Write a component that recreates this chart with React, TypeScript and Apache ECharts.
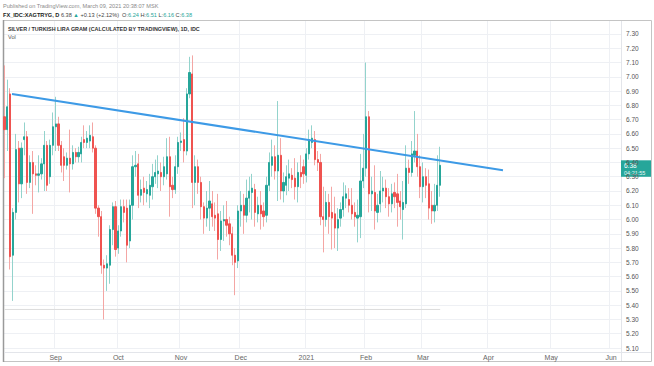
import React, { useEffect, useRef } from 'react';
import * as echarts from 'echarts';

const FONT = '"Liberation Sans", Arial, sans-serif';

// First trading day shown and total number of daily (weekday) slots on the time axis
const startDate = '2020-08-06';
const totalSlots = 217;

const opens = [
  6.72, 6.63, 6.88, 5.75, 6.05, 6.50, 6.25, 6.56, 6.58, 6.26,
  6.40, 6.32, 6.31, 6.32, 6.39, 6.52, 6.30, 6.52, 6.65, 6.67,
  6.52, 6.44, 6.38, 6.43, 6.39, 6.47, 6.44, 6.46, 6.56, 6.54,
  6.55, 6.58, 6.50, 6.08, 6.02, 5.68, 5.66, 5.68, 5.93, 6.09,
  5.80, 5.92, 6.09, 6.08, 5.85, 6.10, 6.37, 6.39, 6.17, 6.22,
  6.18, 6.17, 6.23, 6.30, 6.32, 6.33, 6.30, 6.32, 6.44, 6.24,
  6.21, 6.37, 6.54, 6.56, 6.48, 6.88, 7.02, 6.26, 6.37, 6.26,
  6.09, 6.01, 6.08, 6.11, 6.03, 6.04, 5.86, 5.99, 6.00, 5.97,
  5.90, 5.75, 5.71, 6.06, 6.10, 6.03, 6.15, 6.19, 6.21, 6.04,
  6.10, 6.06, 6.03, 6.24, 6.38, 6.44, 6.34, 6.45, 6.20, 6.24,
  6.29, 6.31, 6.29, 6.23, 6.33, 6.37, 6.31, 6.46, 6.54, 6.56,
  6.42, 6.40, 6.02, 6.00, 6.12, 6.05, 6.04, 5.94, 6.01, 6.07,
  6.15, 6.14, 6.10, 6.05, 6.01, 6.02, 6.27, 6.36, 6.72, 6.18,
  6.19, 6.05, 6.11, 6.20, 6.22, 6.16, 6.11, 6.19, 6.18, 6.13,
  6.07, 6.11, 6.36, 6.33, 6.45, 6.48, 6.37, 6.23, 6.30, 6.25,
  6.10, 6.06, 6.10, 6.24,
];
const closes = [
  6.63, 6.79, 5.74, 6.05, 6.49, 6.25, 6.50, 6.58, 6.26, 6.40,
  6.32, 6.31, 6.32, 6.39, 6.52, 6.24, 6.52, 6.65, 6.67, 6.52,
  6.38, 6.38, 6.43, 6.39, 6.47, 6.44, 6.47, 6.54, 6.54, 6.57,
  6.59, 6.50, 6.08, 6.02, 5.68, 5.66, 5.69, 5.93, 6.09, 5.79,
  5.92, 6.09, 6.05, 5.82, 6.10, 6.37, 6.38, 6.17, 6.21, 6.19,
  6.21, 6.24, 6.30, 6.33, 6.34, 6.30, 6.37, 6.44, 6.23, 6.21,
  6.37, 6.54, 6.55, 6.48, 6.88, 7.03, 6.26, 6.37, 6.26, 6.09,
  6.01, 6.08, 6.13, 6.02, 6.01, 5.86, 5.99, 6.00, 5.96, 5.90,
  5.75, 5.70, 6.06, 6.10, 6.03, 6.15, 6.20, 6.22, 6.05, 6.10,
  6.04, 6.02, 6.24, 6.40, 6.44, 6.34, 6.45, 6.20, 6.26, 6.30,
  6.32, 6.28, 6.23, 6.33, 6.30, 6.32, 6.46, 6.56, 6.57, 6.42,
  6.40, 6.02, 6.00, 6.12, 6.02, 6.01, 5.94, 6.00, 6.07, 6.16,
  6.18, 6.10, 6.04, 6.02, 6.03, 6.27, 6.36, 6.72, 6.18, 6.20,
  6.06, 6.10, 6.20, 6.22, 6.16, 6.11, 6.18, 6.16, 6.12, 6.09,
  6.12, 6.36, 6.33, 6.46, 6.48, 6.37, 6.23, 6.30, 6.24, 6.08,
  6.06, 6.10, 6.24, 6.38,
];
const lows = [
  6.29, 6.48, 5.65, 5.43, 6.00, 6.12, 6.15, 6.45, 6.18, 6.22,
  6.04, 6.24, 6.19, 6.28, 6.20, 6.20, 6.25, 6.45, 6.48, 6.48,
  6.33, 6.27, 6.35, 6.19, 6.35, 6.40, 6.40, 6.40, 6.50, 6.50,
  6.50, 6.47, 6.04, 5.88, 5.62, 5.30, 5.50, 5.55, 5.82, 5.74,
  5.76, 5.88, 5.98, 5.70, 5.80, 6.00, 6.30, 6.08, 6.12, 6.10,
  6.12, 6.08, 6.14, 6.25, 6.22, 6.20, 6.24, 6.28, 6.02, 6.15,
  6.18, 6.32, 6.48, 6.40, 6.45, 6.85, 6.08, 6.10, 6.18, 6.00,
  5.90, 5.95, 5.92, 5.95, 5.92, 5.72, 5.78, 5.85, 5.88, 5.82,
  5.68, 5.47, 5.66, 5.95, 5.90, 5.98, 6.05, 6.00, 5.95, 5.98,
  5.93, 5.95, 5.98, 6.20, 6.30, 6.28, 6.13, 6.14, 6.12, 6.17,
  6.20, 6.22, 6.14, 6.12, 6.22, 6.25, 6.26, 6.42, 6.50, 6.38,
  6.34, 5.96, 5.77, 5.95, 5.90, 5.79, 5.80, 5.78, 5.95, 6.02,
  6.08, 6.05, 6.00, 5.95, 5.84, 5.87, 6.22, 6.30, 6.05, 6.06,
  5.93, 5.98, 6.05, 6.12, 6.08, 6.02, 6.05, 6.08, 5.95, 6.00,
  5.86, 6.08, 6.25, 6.30, 6.40, 6.30, 6.15, 6.12, 6.15, 6.00,
  5.97, 5.98, 6.06, 6.16,
];
const highs = [
  7.08, 6.98, 6.92, 6.08, 6.60, 6.55, 6.54, 6.68, 6.62, 6.45,
  6.48, 6.38, 6.45, 6.43, 6.62, 6.55, 6.56, 6.75, 6.86, 6.72,
  6.55, 6.50, 6.47, 6.63, 6.52, 6.50, 6.51, 6.58, 6.66, 6.62,
  6.66, 6.68, 6.52, 6.10, 6.06, 5.72, 5.75, 5.96, 6.12, 6.13,
  5.96, 6.14, 6.14, 6.14, 6.14, 6.45, 6.48, 6.46, 6.28, 6.30,
  6.27, 6.32, 6.39, 6.42, 6.45, 6.40, 6.44, 6.57, 6.58, 6.30,
  6.45, 6.58, 6.61, 6.71, 6.92, 7.14, 7.15, 6.45, 6.42, 6.30,
  6.12, 6.20, 6.27, 6.20, 6.12, 6.18, 6.06, 6.10, 6.13, 6.02,
  5.95, 5.80, 6.10, 6.20, 6.18, 6.28, 6.30, 6.32, 6.25, 6.16,
  6.20, 6.12, 6.30, 6.47, 6.56, 6.52, 6.83, 6.57, 6.33, 6.38,
  6.42, 6.36, 6.43, 6.40, 6.45, 6.42, 6.50, 6.63, 6.66, 6.62,
  6.48, 6.46, 6.23, 6.20, 6.18, 6.23, 6.16, 6.08, 6.12, 6.26,
  6.24, 6.22, 6.22, 6.12, 6.14, 6.46, 6.60, 7.10, 6.76, 6.30,
  6.38, 6.18, 6.34, 6.30, 6.28, 6.22, 6.25, 6.26, 6.32, 6.20,
  6.27, 6.52, 6.42, 6.55, 6.76, 6.60, 6.45, 6.40, 6.36, 6.35,
  6.20, 6.25, 6.45, 6.51,
];

// Drawn trend line: [slot index, price]
const trendLine = [
  [2.66, 6.879],
  [175.06, 6.346],
];
// Faint "Vol" baseline level
const volBaseline = 5.37;

const monthNames = ['Jan', 'Feb', 'Mar', 'Apr', 'May', 'Jun', 'Jul', 'Aug', 'Sep', 'Oct', 'Nov', 'Dec'];

const publishedText = 'Published on TradingView.com, March 09, 2021 20:38:07 MSK';
const symbolText = 'FX_IDC:XAGTRYG, D';
const lastText = '6.38';
const changeText = '+0.13 (+2.12%)';
const ohlcLabels = ['O:', 'H:', 'L:', 'C:'];
const ohlcValues = ['6.24', '6.51', '6.16', '6.38'];
const titleText = 'SILVER / TURKISH LIRA GRAM (CALCULATED BY TRADINGVIEW), 1D, IDC';
const volText = 'Vol';
const countdownText = '04:21:55';

const UP = '#26a69a';
const DOWN = '#ef5350';
const UP_WICK = '#93d3cc';
const DOWN_WICK = '#f4a6a4';

function weekdaySlots(start: string, n: number): string[] {
  const out: string[] = [];
  const d = new Date(start + 'T00:00:00Z');
  while (out.length < n) {
    const wd = d.getUTCDay();
    if (wd !== 0 && wd !== 6) out.push(d.toISOString().slice(0, 10));
    d.setUTCDate(d.getUTCDate() + 1);
  }
  return out;
}

export default function App() {
  const ref = useRef<HTMLDivElement>(null);

  useEffect(() => {
    const chart = echarts.init(ref.current!, null, { renderer: 'svg' });
    const categories = weekdaySlots(startDate, totalSlots);
    const isMonthStart = (i: number) =>
      i > 0 && categories[i].slice(5, 7) !== categories[i - 1].slice(5, 7);

    const wickData = opens.map((o, i) => [o, closes[i], lows[i], highs[i]]);
    const bodyData = opens.map((o, i) => [
      o,
      closes[i],
      Math.min(o, closes[i]),
      Math.max(o, closes[i]),
    ]);
    const lastIndex = opens.length - 1;

    const baseGraphics: any[] = [
      {
        type: 'text',
        silent: true,
        style: { text: publishedText, x: 3, y: 6, fill: '#8a8a8a', fontSize: 5.6, fontFamily: FONT, textVerticalAlign: 'middle' },
      },
      {
        type: 'text',
        silent: true,
        style: {
          x: 3,
          y: 14.5,
          textVerticalAlign: 'middle',
          fontFamily: FONT,
          fontSize: 5.6,
          text:
            `{b|${symbolText}} {n|${lastText}} {g|▲} {n|${changeText}}  ` +
            ohlcLabels.map((l, i) => `{n|${l}}{g|${ohlcValues[i]}}`).join(' '),
          rich: {
            b: { fontWeight: 'bold', fill: '#222', fontSize: 5.6, fontFamily: FONT },
            n: { fill: '#444', fontSize: 5.6, fontFamily: FONT },
            g: { fill: UP, fontSize: 5.6, fontFamily: FONT },
          },
        },
      },
      {
        type: 'rect',
        silent: true,
        shape: { x: 3.5, y: 20.5, width: 648, height: 341 },
        style: { fill: 'none', stroke: '#c4c4c4', lineWidth: 1 },
      },
      {
        type: 'line',
        silent: true,
        shape: { x1: 3.5, y1: 20, x2: 3.5, y2: 362 },
        style: { stroke: '#9a9a9a', lineWidth: 1.5 },
      },
      {
        type: 'line',
        silent: true,
        shape: { x1: 621.5, y1: 21, x2: 621.5, y2: 361 },
        style: { stroke: '#e3e5ea', lineWidth: 1 },
      },
      {
        type: 'line',
        silent: true,
        shape: { x1: 4, y1: 352.5, x2: 651, y2: 352.5 },
        style: { stroke: '#e3e5ea', lineWidth: 1 },
      },
      {
        type: 'text',
        silent: true,
        style: { text: titleText, x: 8, y: 28.5, fill: '#333', fontSize: 5.4, fontWeight: 'bold', fontFamily: FONT, textVerticalAlign: 'middle' },
      },
      {
        type: 'text',
        silent: true,
        style: { text: volText, x: 8, y: 37, fill: '#555', fontSize: 5.6, fontFamily: FONT, textVerticalAlign: 'middle' },
      },
    ];

    chart.setOption({
      animation: false,
      backgroundColor: '#ffffff',
      textStyle: { fontFamily: FONT },
      grid: { left: 3, right: 33, top: 20, bottom: 18, outerBoundsMode: 'none', containLabel: false },
      xAxis: [
        {
          type: 'category',
          data: categories,
          boundaryGap: true,
          axisLine: { show: false },
          axisTick: { show: false },
          axisLabel: {
            interval: (i: number) => isMonthStart(i),
            formatter: (v: string) => {
              const m = Number(v.slice(5, 7));
              return m === 1 ? v.slice(0, 4) : monthNames[m - 1];
            },
            fontSize: 7,
            color: '#666',
            margin: 6,
            fontFamily: FONT,
          },
          splitLine: {
            show: true,
            interval: (i: number) => isMonthStart(i),
            lineStyle: { color: '#eef0f4', width: 1 },
          },
        },
        {
          type: 'value',
          min: -0.5,
          max: totalSlots - 0.5,
          show: false,
        },
      ],
      yAxis: {
        type: 'value',
        position: 'right',
        min: 5.1,
        max: 7.398,
        interval: 0.1,
        axisLine: { show: false },
        axisTick: { show: false },
        axisLabel: {
          formatter: (v: number) => v.toFixed(2),
          fontSize: 6.5,
          color: '#555',
          margin: 5,
          showMaxLabel: false,
          fontFamily: FONT,
        },
        splitLine: { show: true, lineStyle: { color: '#eef0f4', width: 1 } },
      },
      series: [
        {
          type: 'line',
          xAxisIndex: 1,
          data: [
            [0, volBaseline],
            [lastIndex, volBaseline],
          ],
          symbol: 'none',
          lineStyle: { color: '#dcdcdc', width: 1 },
          silent: true,
          z: 1,
        },
        {
          type: 'candlestick',
          data: wickData,
          barWidth: 1,
          itemStyle: {
            color: UP_WICK,
            color0: DOWN_WICK,
            borderColor: UP_WICK,
            borderColor0: DOWN_WICK,
            borderWidth: 1,
          },
          z: 2,
        },
        {
          type: 'candlestick',
          data: bodyData,
          barWidth: 1.7,
          itemStyle: {
            color: UP,
            color0: DOWN,
            borderColor: UP,
            borderColor0: DOWN,
            borderWidth: 1,
          },
          z: 3,
        },
        {
          type: 'line',
          xAxisIndex: 1,
          data: trendLine,
          symbol: 'none',
          lineStyle: { color: '#3d9ae6', width: 2 },
          silent: true,
          z: 4,
        },
      ],
      graphic: baseGraphics,
    });

    const lastClose = closes[lastIndex];
    const py = chart.convertToPixel({ yAxisIndex: 0 }, lastClose) as number;
    const tag = {
      type: 'group',
      silent: true,
      children: [
        {
          type: 'rect',
          shape: { x: 621, y: py - 5, width: 30, height: 16.5 },
          style: { fill: UP },
        },
        {
          type: 'text',
          style: { text: lastClose.toFixed(2), x: 624, y: py + 0.5, fill: '#fff', fontSize: 6.5, fontFamily: FONT, textVerticalAlign: 'middle' },
        },
        {
          type: 'text',
          style: { text: countdownText, x: 624, y: py + 7.5, fill: '#e8f6f4', fontSize: 5.5, fontFamily: FONT, textVerticalAlign: 'middle' },
        },
      ],
    };
    chart.setOption({ graphic: [...baseGraphics, tag] }, { replaceMerge: ['graphic'] });

    return () => chart.dispose();
  }, []);

  return (
    <div
      ref={ref}
      style={{ position: 'fixed', left: 0, top: 0, width: 654, height: 366, background: '#fff' }}
    />
  );
}
